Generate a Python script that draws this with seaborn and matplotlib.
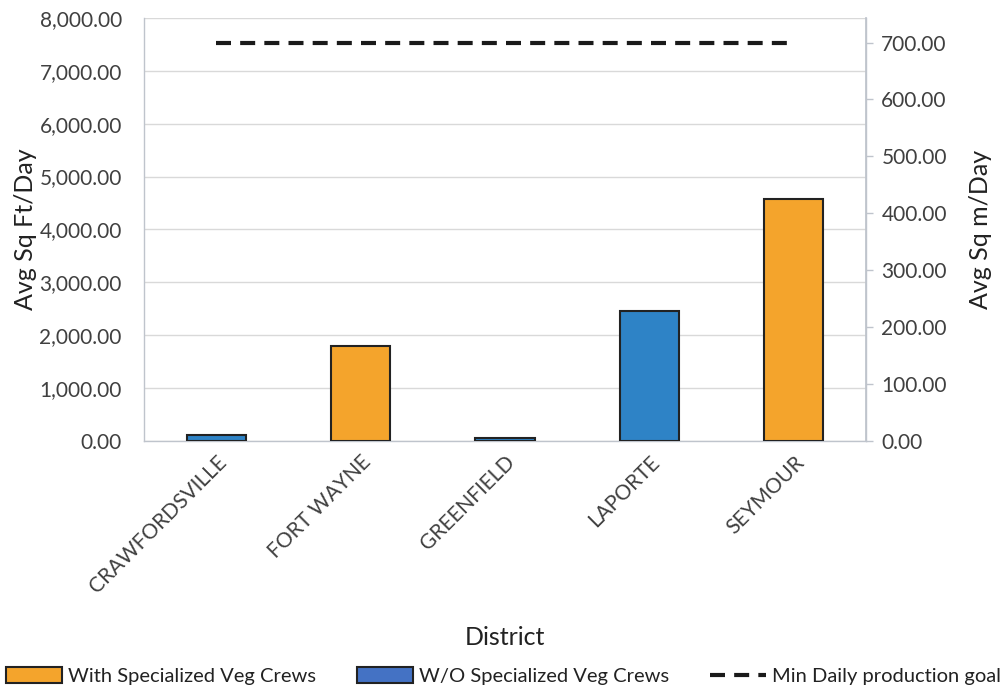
import matplotlib
matplotlib.use("Agg")
import matplotlib.pyplot as plt
import matplotlib.ticker as mticker
from matplotlib.patches import Patch
from matplotlib.lines import Line2D
import seaborn as sns
import pandas as pd
import numpy as np

districts = ["CRAWFORDSVILLE", "FORT WAYNE", "GREENFIELD", "LAPORTE", "SEYMOUR"]
sqft_per_day = [120, 1800, 60, 2450, 4570]
crew_type = ["W/O Specialized Veg Crews", "With Specialized Veg Crews",
             "W/O Specialized Veg Crews", "W/O Specialized Veg Crews",
             "With Specialized Veg Crews"]
goal_sqm = [700, 700, 700, 700, 700]
SQFT_TO_SQM = 0.092903

orange = "#F4A42C"
blue = "#2E83C6"
legend_blue = "#4472C4"
dash = (0, (3.6, 2.2))

sns.set_theme(style="white")
plt.rcParams["font.family"] = ["Lato", "DejaVu Sans"]

df = pd.DataFrame({"District": districts, "Value": sqft_per_day, "Crew": crew_type})

fig = plt.figure(figsize=(10.07, 6.9), dpi=100)
ax = fig.add_axes([0.143, 0.361, 0.717, 0.613])

sns.barplot(data=df, x="District", y="Value", hue="Crew", dodge=False,
            palette={"With Specialized Veg Crews": orange,
                     "W/O Specialized Veg Crews": blue},
            saturation=1, width=0.41, edgecolor="#222222", linewidth=1.5, ax=ax,
            legend=False, zorder=3)

ax.set_ylim(0, 8000)
ax.set_xlim(-0.5, 4.5)
ax.yaxis.set_major_locator(mticker.MultipleLocator(1000))
ax.yaxis.set_major_formatter(mticker.FuncFormatter(lambda v, p: f"{v:,.2f}"))
ax.grid(axis="y", color="#D9D9D9", linewidth=1, zorder=0)
ax.set_axisbelow(True)
ax.spines["top"].set_visible(False)
for s in ["left", "right", "bottom"]:
    ax.spines[s].set_color("#BFC4CC")
    ax.spines[s].set_linewidth(1)
ax.tick_params(axis="y", labelsize=15, colors="#404040", length=0, pad=16)
ax.tick_params(axis="x", labelsize=15, colors="#404040", length=0, pad=8)
plt.setp(ax.get_xticklabels(), rotation=45, ha="right", rotation_mode="anchor")
ax.set_ylabel("Avg Sq Ft/Day", fontsize=18, color="#222222", labelpad=2)
ax.set_xlabel("District", fontsize=18, color="#222222", labelpad=21)

ax2 = ax.twinx()
ax2.set_ylim(0, 8000 * SQFT_TO_SQM)
sns.lineplot(x=np.arange(len(districts)), y=goal_sqm, ax=ax2, color="#1a1a1a",
             linewidth=3, linestyle=dash)
ax2.set_xlim(-0.5, 4.5)
ax2.yaxis.set_major_locator(mticker.MultipleLocator(100))
ax2.yaxis.set_major_formatter(mticker.FuncFormatter(lambda v, p: f"{v:.2f}"))
ax2.tick_params(axis="y", labelsize=15, colors="#404040", length=5, width=1,
                direction="out", color="#BFC4CC", pad=6)
ax2.set_ylabel("Avg Sq m/Day", fontsize=18, color="#222222", labelpad=16)
for s in ["top", "left", "bottom"]:
    ax2.spines[s].set_visible(False)
ax2.spines["right"].set_color("#BFC4CC")

handles = [
    Patch(facecolor=orange, edgecolor="#222222", linewidth=1.5),
    Patch(facecolor=legend_blue, edgecolor="#222222", linewidth=1.5),
    Line2D([0], [0], color="#1a1a1a", linewidth=3, linestyle=dash),
]
labels = ["With Specialized Veg Crews", "W/O Specialized Veg Crews",
          "Min Daily production goal"]
fig.legend(handles, labels, loc="center", bbox_to_anchor=(0.5, 0.02), ncol=3,
           frameon=False, fontsize=14.5, handlelength=2.8, handleheight=0.8,
           handletextpad=0.3, columnspacing=2.0, labelcolor="#222222")

fig.savefig("out.png", dpi=100)
